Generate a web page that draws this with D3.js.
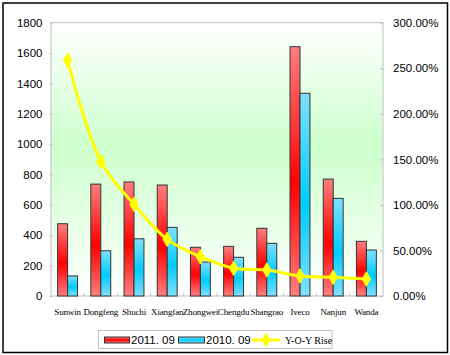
<!DOCTYPE html>
<html>
<head>
<meta charset="utf-8">
<script src="https://cdn.jsdelivr.net/npm/d3@7"></script>
<style>
  html, body { margin: 0; padding: 0; background: #fff; }
  svg { display: block; }
</style>
</head>
<body>
<svg id="chart" width="450" height="355"></svg>
<script>
const categories = ["Sunwin", "Dongfeng", "Shuchi", "Xiangfan", "Zhongwei", "Chengdu", "Shangrao", "Iveco", "Nanjun", "Wanda"];
const sales2011 = [476, 737, 751, 731, 321, 327, 446, 1642, 770, 360];
const sales2010 = [132, 298, 377, 452, 224, 255, 347, 1335, 643, 303];
const yoyRise = [258.7, 147.8, 100.6, 62.2, 43.1, 30.4, 28.5, 22.0, 20.5, 18.7];
const leftTicks = [0, 200, 400, 600, 800, 1000, 1200, 1400, 1600, 1800];
const rightTicks = [0, 50, 100, 150, 200, 250, 300];
const seriesNames = ["2011. 09", "2010. 09", "Y-O-Y Rise"];

const svg = d3.select("#chart");
const plot = { left: 51, right: 383, top: 22.7, bottom: 296 };

const defs = svg.append("defs");
const bg = defs.append("linearGradient").attr("id", "bgGrad").attr("x1", 0).attr("y1", 0).attr("x2", 0).attr("y2", 1);
bg.append("stop").attr("offset", "0%").attr("stop-color", "#ffffff");
bg.append("stop").attr("offset", "45%").attr("stop-color", "#ccffcc");
bg.append("stop").attr("offset", "100%").attr("stop-color", "#ffffff");

function barGrad(id, light, dark, mid) {
  const g = defs.append("linearGradient").attr("id", id).attr("x1", 0).attr("y1", 0).attr("x2", 0).attr("y2", 1);
  g.append("stop").attr("offset", "0%").attr("stop-color", light);
  g.append("stop").attr("offset", mid).attr("stop-color", dark);
  g.append("stop").attr("offset", "100%").attr("stop-color", light);
}
barGrad("redGrad", "#ff7f7f", "#ff0000", "55%");
barGrad("blueGrad", "#80e0ff", "#00ccff", "55%");
barGrad("redLeg", "#ff7f7f", "#ff0000", "50%");
barGrad("blueLeg", "#80e0ff", "#00ccff", "50%");

// outer border
svg.append("rect").attr("x", 3).attr("y", 3).attr("width", 444.5).attr("height", 349.5)
  .attr("fill", "#fff").attr("stroke", "#000").attr("stroke-width", 1.5);

// plot background
svg.append("rect").attr("x", plot.left).attr("y", plot.top)
  .attr("width", plot.right - plot.left).attr("height", plot.bottom - plot.top)
  .attr("fill", "url(#bgGrad)").attr("stroke", "#c0c0c0").attr("stroke-width", 1);

const x0 = d3.scaleBand().domain(categories).range([plot.left, plot.right]).paddingInner(0.4).paddingOuter(0.2);
const x1 = d3.scaleBand().domain([0, 1]).range([0, x0.bandwidth()]);
const yL = d3.scaleLinear().domain([0, 1800]).range([plot.bottom, plot.top]);
const yR = d3.scaleLinear().domain([0, 300]).range([plot.bottom, plot.top]);

// left axis
const leftAxis = d3.axisLeft(yL).tickValues(leftTicks).tickSize(3).tickPadding(7).tickFormat(d3.format("d"));
const gL = svg.append("g").attr("transform", `translate(${plot.left + 1.5},0)`).call(leftAxis);
gL.select(".domain").remove();
gL.selectAll(".tick line").attr("stroke", "#c0c0c0");
gL.selectAll("text").attr("font-family", "Liberation Sans, Arial, sans-serif").attr("font-size", 11.5).attr("fill", "#000");

// right axis
const rightAxis = d3.axisRight(yR).tickValues(rightTicks).tickSize(-3).tickPadding(10).tickFormat(d => d.toFixed(2) + "%");
const gR = svg.append("g").attr("transform", `translate(${plot.right},0)`).call(rightAxis);
gR.select(".domain").remove();
gR.selectAll(".tick line").attr("stroke", "#c0c0c0");
gR.selectAll("text").attr("font-family", "Liberation Sans, Arial, sans-serif").attr("font-size", 11.5).attr("fill", "#000");

// x axis tick marks at category boundaries
const step = x0.step();
const bounds = d3.range(1, categories.length).map(i => x0(categories[i]) - x0.paddingInner() * step / 2);
svg.append("g").selectAll("line").data(bounds).join("line")
  .attr("x1", d => d).attr("x2", d => d).attr("y1", plot.bottom).attr("y2", plot.bottom - 3)
  .attr("stroke", "#c0c0c0");

// category labels
svg.append("g").selectAll("text").data(categories).join("text")
  .attr("x", d => x0(d) + x0.bandwidth() / 2)
  .attr("y", 315)
  .attr("text-anchor", "middle")
  .attr("font-family", "Liberation Serif, Times New Roman, serif")
  .attr("font-size", 9)
  .attr("letter-spacing", -0.15)
  .attr("fill", "#000")
  .text(d => d);

// bars
const barData = [];
categories.forEach((c, i) => {
  barData.push({ c, s: 0, v: sales2011[i] });
  barData.push({ c, s: 1, v: sales2010[i] });
});
svg.append("g").selectAll("rect").data(barData).join("rect")
  .attr("x", d => x0(d.c) + x1(d.s))
  .attr("y", d => yL(d.v))
  .attr("width", x1.bandwidth())
  .attr("height", d => yL(0) - yL(d.v))
  .attr("fill", d => d.s === 0 ? "url(#redGrad)" : "url(#blueGrad)")
  .attr("stroke", "#333")
  .attr("stroke-width", 1);

// line
const pts = categories.map((c, i) => [x0(c) + x0.bandwidth() / 2, yR(yoyRise[i])]);
svg.append("path").datum(pts)
  .attr("d", d3.line().curve(d3.curveCatmullRom.alpha(0.5)))
  .attr("fill", "none").attr("stroke", "#ffff00").attr("stroke-width", 3);
const diamond = d3.symbol().type(d3.symbolDiamond).size(60);
svg.append("g").selectAll("path").data(pts).join("path")
  .attr("transform", d => `translate(${d[0]},${d[1]})`)
  .attr("d", diamond)
  .attr("fill", "#ffff00").attr("stroke", "#ffff00");

// legend
const lg = svg.append("g");
lg.append("rect").attr("x", 98.5).attr("y", 330.5).attr("width", 233.5).attr("height", 18)
  .attr("fill", "#fff").attr("stroke", "#c0c0c0").attr("stroke-width", 1);
lg.append("rect").attr("x", 104.5).attr("y", 337).attr("width", 25).attr("height", 6)
  .attr("fill", "url(#redLeg)").attr("stroke", "#333");
lg.append("text").attr("x", 131).attr("y", 344).attr("font-family", "Liberation Sans, Arial, sans-serif")
  .attr("font-size", 11.5).text(seriesNames[0]);
lg.append("rect").attr("x", 178.5).attr("y", 337).attr("width", 26).attr("height", 6)
  .attr("fill", "url(#blueLeg)").attr("stroke", "#333");
lg.append("text").attr("x", 206).attr("y", 344).attr("font-family", "Liberation Sans, Arial, sans-serif")
  .attr("font-size", 11.5).text(seriesNames[1]);
lg.append("line").attr("x1", 252).attr("x2", 280).attr("y1", 340).attr("y2", 340)
  .attr("stroke", "#ffff00").attr("stroke-width", 3);
lg.append("path").attr("transform", "translate(266,340)").attr("d", diamond).attr("fill", "#ffff00");
lg.append("text").attr("x", 285).attr("y", 344).attr("font-family", "Liberation Serif, Times New Roman, serif")
  .attr("font-size", 10).text(seriesNames[2]);
</script>
</body>
</html>
